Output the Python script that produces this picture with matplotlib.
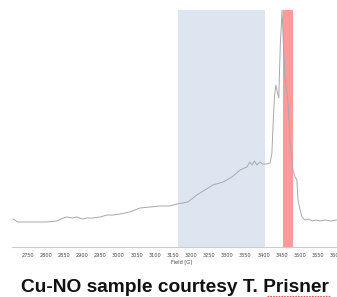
import matplotlib.pyplot as plt
from matplotlib.lines import Line2D

# spectrum (field in G, intensity in arbitrary units)
field = [2709, 2714, 2720, 2764, 2800, 2830, 2847, 2858, 2872, 2885, 2900, 2913,
         2930, 2949, 2968, 2985, 3004, 3031, 3059, 3087, 3114, 3140, 3161, 3191,
         3216, 3238, 3260, 3288, 3313, 3335, 3354, 3362, 3368, 3375, 3382, 3390,
         3398, 3409, 3418, 3423, 3426, 3430, 3434, 3438, 3442, 3446, 3451, 3455,
         3459, 3467, 3473, 3481, 3487, 3492, 3495, 3500, 3506, 3514, 3525, 3534,
         3545, 3555, 3570, 3585, 3602]
signal = [28, 27, 25, 25, 25, 26, 29, 30, 29, 30, 28, 29,
          29, 30, 32, 32, 33, 35, 39, 40, 41, 41, 43, 45,
          52, 57, 62, 65, 70, 77, 80, 85, 82, 86, 82, 85,
          83, 83, 84, 94, 120, 150, 162, 155, 149, 200, 237, 200,
          170, 147, 104, 77, 70, 67, 47, 38, 30, 27, 28, 26,
          27, 26, 27, 26, 27]

blue_band = (3165, 3405)
red_band = (3453, 3481)
ticks = list(range(2750, 3650, 50))
title = "Cu-NO sample courtesy T. Prisner"

fig = plt.figure(figsize=(3.37, 2.97), dpi=100)
W, H = 337, 297
# axes runs past the right edge of the picture, as in the original
ax = fig.add_axes([12 / W, (H - 247) / H, 340 / W, 237 / H])

ax.axvspan(*blue_band, color="#dde6f0", lw=0)
ax.axvspan(*red_band, color="#ff9a9a", lw=0)
ax.plot(field, signal, color="#a8a8a8", lw=0.7)

ax.set_xlim(2706, 3644)
ax.set_ylim(0, 237)
ax.set_yticks([])
for s in ["top", "right", "left"]:
    ax.spines[s].set_visible(False)
ax.spines["bottom"].set_color("#cccccc")
ax.spines["bottom"].set_linestyle((0, (1, 1)))
ax.spines["bottom"].set_linewidth(0.8)
ax.set_xticks(ticks)
ax.set_xticklabels([str(t) for t in ticks], fontsize=3.6, color="#444444")
ax.tick_params(axis="x", length=0, pad=4)
ax.set_xlabel("Field [G]", fontsize=3.6, color="#444444", labelpad=1.5)

fig.text(175 / W, 1 - 287 / H, title, ha="center", va="center",
         fontsize=13.8, fontweight="bold", family="Liberation Sans", color="#111111")

# red spell-check underline under "Prisner"
fig.add_artist(Line2D([267 / W, 330 / W], [1 - 295.5 / H] * 2, color="#e05050",
                      lw=0.8, ls=(0, (1.5, 1))))

fig.savefig("out.png", dpi=100)
